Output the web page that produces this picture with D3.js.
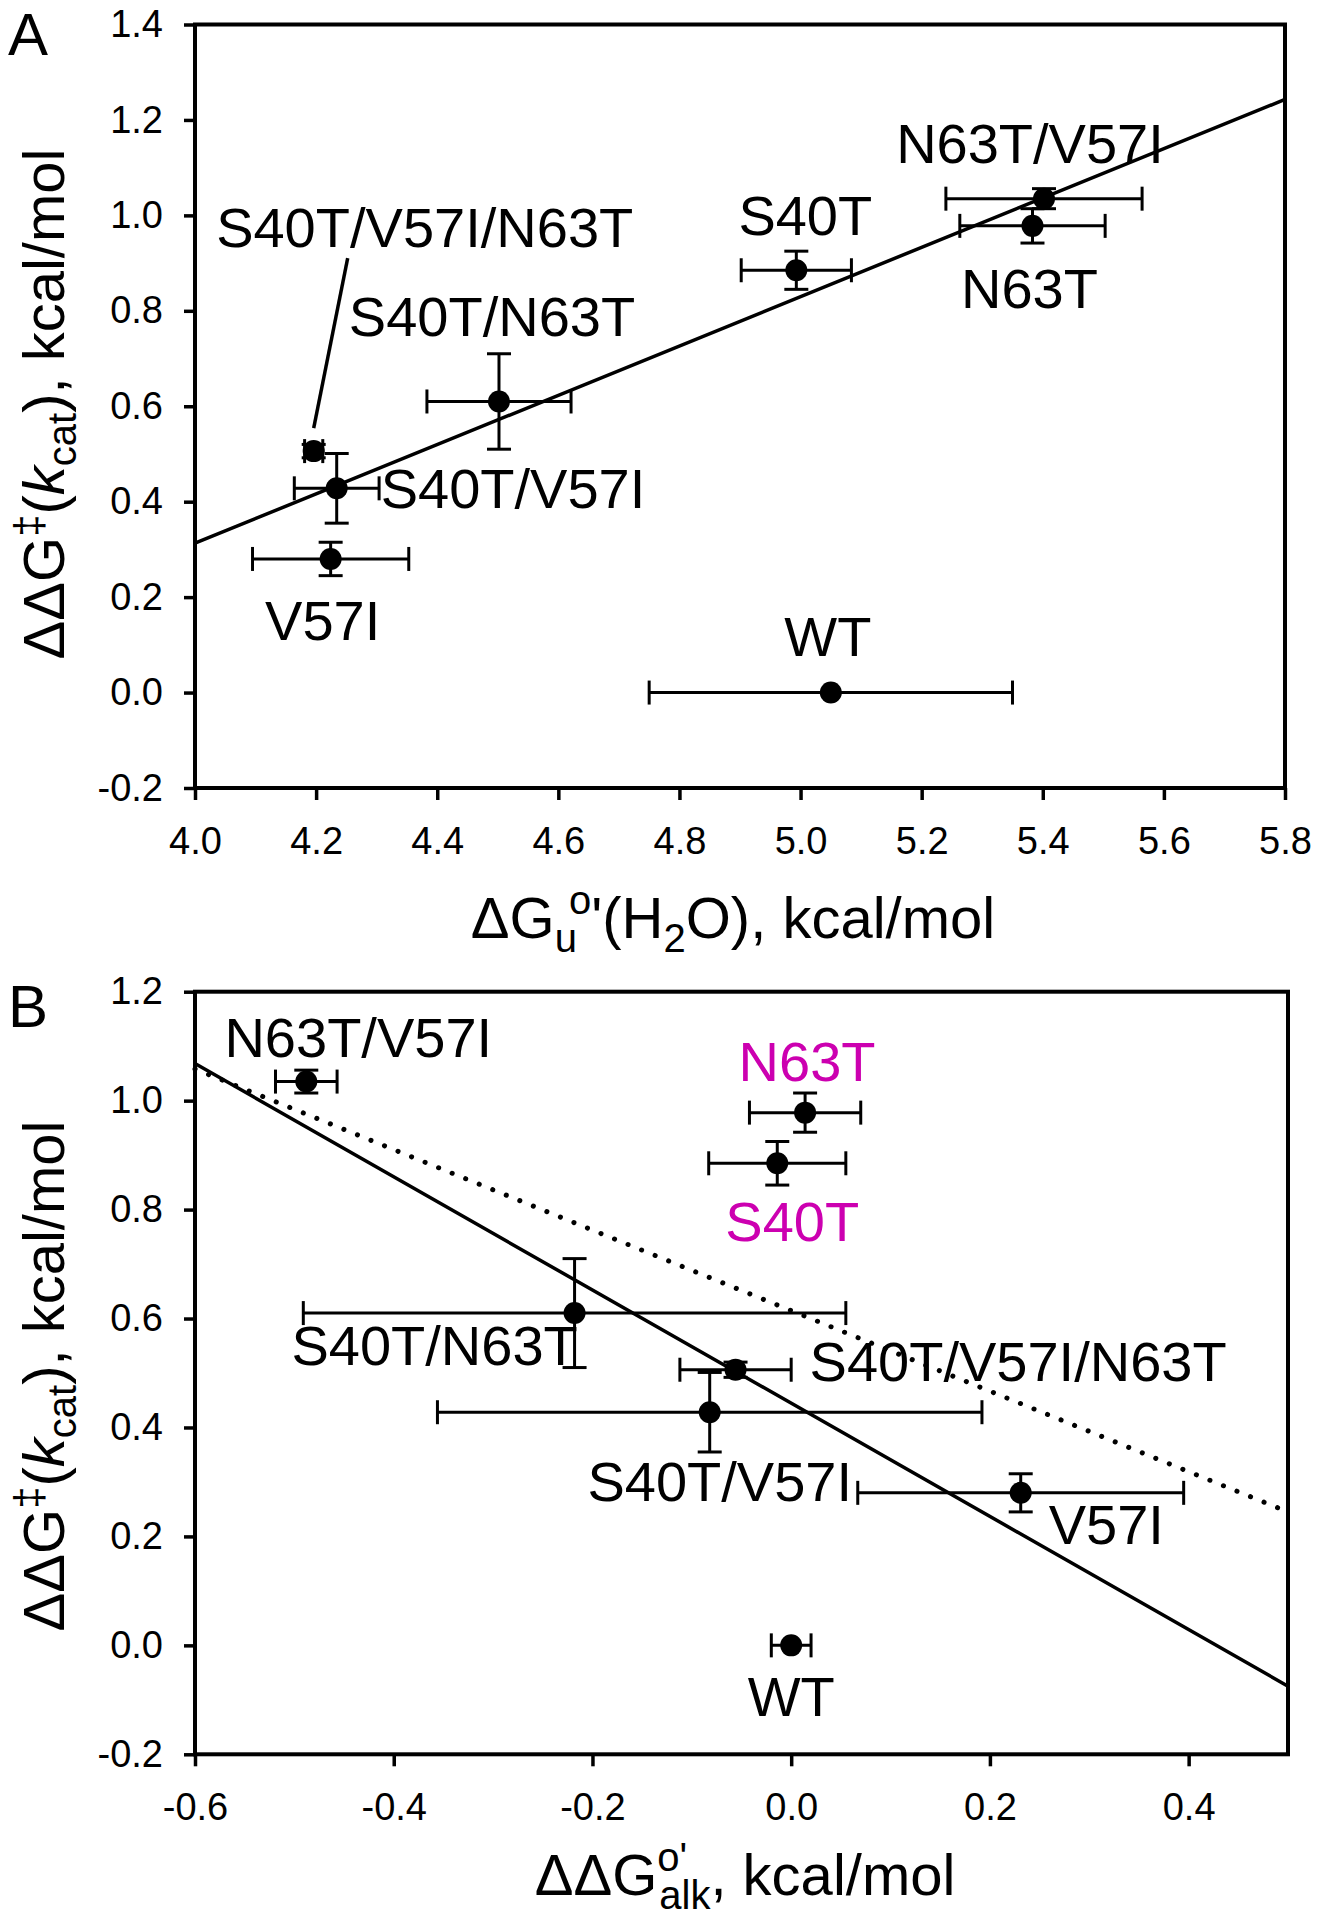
<!DOCTYPE html>
<html>
<head>
<meta charset="utf-8">
<script src="https://cdn.jsdelivr.net/npm/d3@7"></script>
<style>
  html, body { margin: 0; padding: 0; background: #fff; }
  svg { display: block; }
</style>
</head>
<body>
<div id="chart"></div>
<script>
// ---------------- data ----------------
const mutants     = ["WT", "V57I", "S40T", "N63T", "S40T/V57I", "S40T/N63T", "N63T/V57I", "S40T/V57I/N63T"];
const dGu         = [5.050, 4.224, 4.993, 5.383, 4.234, 4.502, 5.402, 4.196];   // panel A x
const dGuErr      = [0.300, 0.129, 0.091, 0.120, 0.070, 0.119, 0.162, 0.015];
const ddGkcat     = [0.000, 0.280, 0.885, 0.978, 0.428, 0.610, 1.035, 0.506];   // y (both panels)
const ddGkcatErr  = [0.000, 0.035, 0.040, 0.036, 0.073, 0.100, 0.021, 0.014];
const ddGalk      = [0.000, 0.231, -0.014, 0.014, -0.082, -0.218, -0.488, -0.056]; // panel B x
const ddGalkErr   = [0.020, 0.164, 0.069, 0.056, 0.274, 0.273, 0.031, 0.056];

const fitA_x  = [4.0, 5.8];   const fitA_y  = [0.313, 1.243];
const fitB_x  = [-0.6, 0.5];  const fitB_y  = [1.068, -0.075];
const fitB2_x = [-0.6, 0.5];  const fitB2_y = [1.058, 0.245];

const ticksAx = [4.0, 4.2, 4.4, 4.6, 4.8, 5.0, 5.2, 5.4, 5.6, 5.8];
const ticksAy = [-0.2, 0.0, 0.2, 0.4, 0.6, 0.8, 1.0, 1.2, 1.4];
const ticksBx = [-0.6, -0.4, -0.2, 0.0, 0.2, 0.4];
const ticksBy = [-0.2, 0.0, 0.2, 0.4, 0.6, 0.8, 1.0, 1.2];

// ---------------- layout / styles ----------------
const W = 1318, H = 1920;
const FONT = "'Liberation Sans', Arial, Helvetica, sans-serif";
const MAGENTA = "#cc00b0";
const LABEL_FS = 56, TICK_FS = 38, TITLE_FS = 58;

const svg = d3.select("#chart").append("svg")
  .attr("width", W).attr("height", H)
  .attr("font-family", FONT);
svg.append("rect").attr("width", W).attr("height", H).attr("fill", "#fff");

const points = mutants.map((m, i) => ({
  name: m, a: dGu[i], aErr: dGuErr[i], y: ddGkcat[i], yErr: ddGkcatErr[i],
  b: ddGalk[i], bErr: ddGalkErr[i]
}));

const xA = d3.scaleLinear().domain([4.0, 5.8]).range([195, 1285]);
const yA = d3.scaleLinear().domain([-0.2, 1.4]).range([788, 24.5]);
const xB = d3.scaleLinear().domain([-0.6, 0.5]).range([195, 1288]);
const yB = d3.scaleLinear().domain([-0.2, 1.2]).range([1754.3, 991.7]);

// label annotation offsets (px from marker centre)
const labA = {
  "WT": {dx: -3, dy: -37, anchor: "middle"},
  "V57I": {dx: -8, dy: 81, anchor: "middle"},
  "S40T": {dx: 9, dy: -35, anchor: "middle"},
  "N63T": {dx: -3, dy: 82, anchor: "middle"},
  "S40T/V57I": {dx: 44, dy: 20, anchor: "start"},
  "S40T/N63T": {dx: -7, dy: -65, anchor: "middle"},
  "N63T/V57I": {dx: -14, dy: -36, anchor: "middle"},
  "S40T/V57I/N63T": {dx: 111, dy: -204, anchor: "middle", leader: [[34, -193], [0, -23]]}
};
const labB = {
  "WT": {dx: 0, dy: 71, anchor: "middle"},
  "V57I": {dx: 28, dy: 51, anchor: "start"},
  "S40T": {dx: 15, dy: 78, anchor: "middle", color: MAGENTA},
  "N63T": {dx: 2, dy: -32, anchor: "middle", color: MAGENTA},
  "S40T/V57I": {dx: 10, dy: 89, anchor: "middle"},
  "S40T/N63T": {dx: -140, dy: 52, anchor: "middle"},
  "N63T/V57I": {dx: 52, dy: -25, anchor: "middle"},
  "S40T/V57I/N63T": {dx: 74, dy: 11, anchor: "start"}
};

function drawPanel(opt) {
  const {x, y, xTicks, yTicks, xKey, xErrKey, labels, fits} = opt;
  const g = svg.append("g");
  const [x0, x1] = x.range();
  const [y0, y1] = y.range(); // y0 bottom, y1 top

  // axes
  const ax = g.append("g").attr("transform", `translate(0,${y0})`)
    .call(d3.axisBottom(x).tickValues(xTicks).tickSize(12).tickPadding(27)
      .tickFormat(d => d.toFixed(1)));
  const ay = g.append("g").attr("transform", `translate(${x0},0)`)
    .call(d3.axisLeft(y).tickValues(yTicks).tickSize(11).tickPadding(21)
      .tickFormat(d => d.toFixed(1)));
  [ax, ay].forEach(a => {
    a.select(".domain").remove();
    a.selectAll(".tick line").attr("stroke", "#000").attr("stroke-width", 3.5);
    a.selectAll(".tick text").attr("fill", "#000").attr("font-size", TICK_FS)
      .attr("font-family", FONT);
  });
  // frame
  g.append("rect").attr("x", x0).attr("y", y1).attr("width", x1 - x0).attr("height", y0 - y1)
    .attr("fill", "none").attr("stroke", "#000").attr("stroke-width", 4);

  // fit lines
  fits.forEach(f => {
    g.append("line")
      .attr("x1", x(f.xs[0])).attr("y1", y(f.ys[0]))
      .attr("x2", x(f.xs[1])).attr("y2", y(f.ys[1]))
      .attr("stroke", "#000")
      .attr("stroke-width", f.dotted ? 5 : 3.5)
      .attr("stroke-linecap", "round")
      .attr("stroke-dasharray", f.dotted ? "0.1,14.5" : null);
  });

  // error bars
  const cap = 12;
  const eb = g.append("g").attr("stroke", "#000").attr("stroke-width", 3).attr("fill", "none");
  points.forEach(p => {
    const cx = x(p[xKey]), cy = y(p.y);
    const e = p[xErrKey];
    if (e > 0) {
      const l = x(p[xKey] - e), r = x(p[xKey] + e);
      eb.append("line").attr("x1", l).attr("x2", r).attr("y1", cy).attr("y2", cy);
      eb.append("line").attr("x1", l).attr("x2", l).attr("y1", cy - cap).attr("y2", cy + cap);
      eb.append("line").attr("x1", r).attr("x2", r).attr("y1", cy - cap).attr("y2", cy + cap);
    }
    if (p.yErr > 0) {
      const t = y(p.y + p.yErr), b = y(p.y - p.yErr);
      eb.append("line").attr("x1", cx).attr("x2", cx).attr("y1", t).attr("y2", b);
      eb.append("line").attr("x1", cx - cap).attr("x2", cx + cap).attr("y1", t).attr("y2", t);
      eb.append("line").attr("x1", cx - cap).attr("x2", cx + cap).attr("y1", b).attr("y2", b);
    }
  });
  // markers
  g.selectAll("circle.pt").data(points).join("circle").attr("class", "pt")
    .attr("cx", p => x(p[xKey])).attr("cy", p => y(p.y)).attr("r", 11).attr("fill", "#000");

  // labels
  points.forEach(p => {
    const L = labels[p.name];
    const cx = x(p[xKey]), cy = y(p.y);
    g.append("text").attr("x", cx + L.dx).attr("y", cy + L.dy)
      .attr("text-anchor", L.anchor).attr("font-size", LABEL_FS)
      .attr("fill", L.color || "#000").text(p.name);
    if (L.leader) {
      g.append("line")
        .attr("x1", cx + L.leader[0][0]).attr("y1", cy + L.leader[0][1])
        .attr("x2", cx + L.leader[1][0]).attr("y2", cy + L.leader[1][1])
        .attr("stroke", "#000").attr("stroke-width", 3.5);
    }
  });
  return g;
}

drawPanel({x: xA, y: yA, xTicks: ticksAx, yTicks: ticksAy, xKey: "a", xErrKey: "aErr",
  labels: labA, fits: [{xs: fitA_x, ys: fitA_y}]});
drawPanel({x: xB, y: yB, xTicks: ticksBx, yTicks: ticksBy, xKey: "b", xErrKey: "bErr",
  labels: labB, fits: [{xs: fitB_x, ys: fitB_y}, {xs: fitB2_x, ys: fitB2_y, dotted: true}]});

// panel letters
svg.append("text").attr("x", 8).attr("y", 55).attr("font-size", 60).text("A");
svg.append("text").attr("x", 8).attr("y", 1027).attr("font-size", 60).text("B");

// y titles
function yTitle(cy) {
  const t = svg.append("text").attr("transform", `translate(64,${cy}) rotate(-90)`)
    .attr("text-anchor", "middle").attr("font-size", TITLE_FS).attr("fill", "#000");
  t.append("tspan").text("ΔΔG");
  t.append("tspan").attr("font-size", 40).attr("dy", -21).text("‡");
  t.append("tspan").attr("dy", 21).text("(");
  t.append("tspan").attr("font-style", "italic").text("k");
  t.append("tspan").attr("font-size", 40).attr("dy", 12).text("cat");
  t.append("tspan").attr("dy", -12).text("), kcal/mol");
}
yTitle(404);
yTitle(1376);

// x title A
{
  const t = svg.append("text").attr("x", 733).attr("y", 938)
    .attr("text-anchor", "middle").attr("font-size", TITLE_FS).attr("fill", "#000");
  t.append("tspan").text("ΔG");
  t.append("tspan").attr("font-size", 40).attr("dy", 14).text("u");
  t.append("tspan").attr("font-size", 40).attr("dy", -38).attr("dx", -8).text("o");
  t.append("tspan").attr("dy", 24).text("'(H");
  t.append("tspan").attr("font-size", 40).attr("dy", 14).text("2");
  t.append("tspan").attr("dy", -14).text("O), kcal/mol");
}
// x title B
{
  const t = svg.append("text").attr("x", 745).attr("y", 1895)
    .attr("text-anchor", "middle").attr("font-size", TITLE_FS).attr("fill", "#000");
  t.append("tspan").text("ΔΔG");
  const sup = t.append("tspan").attr("font-size", 40).attr("dy", -24).text("o'");
  const sub = t.append("tspan").attr("font-size", 40).attr("dy", 38).text("alk");
  t.append("tspan").attr("dy", -14).text(", kcal/mol");
  const wSup = sup.node().getComputedTextLength();
  sub.attr("dx", -wSup + 2);
}
</script>
</body>
</html>
